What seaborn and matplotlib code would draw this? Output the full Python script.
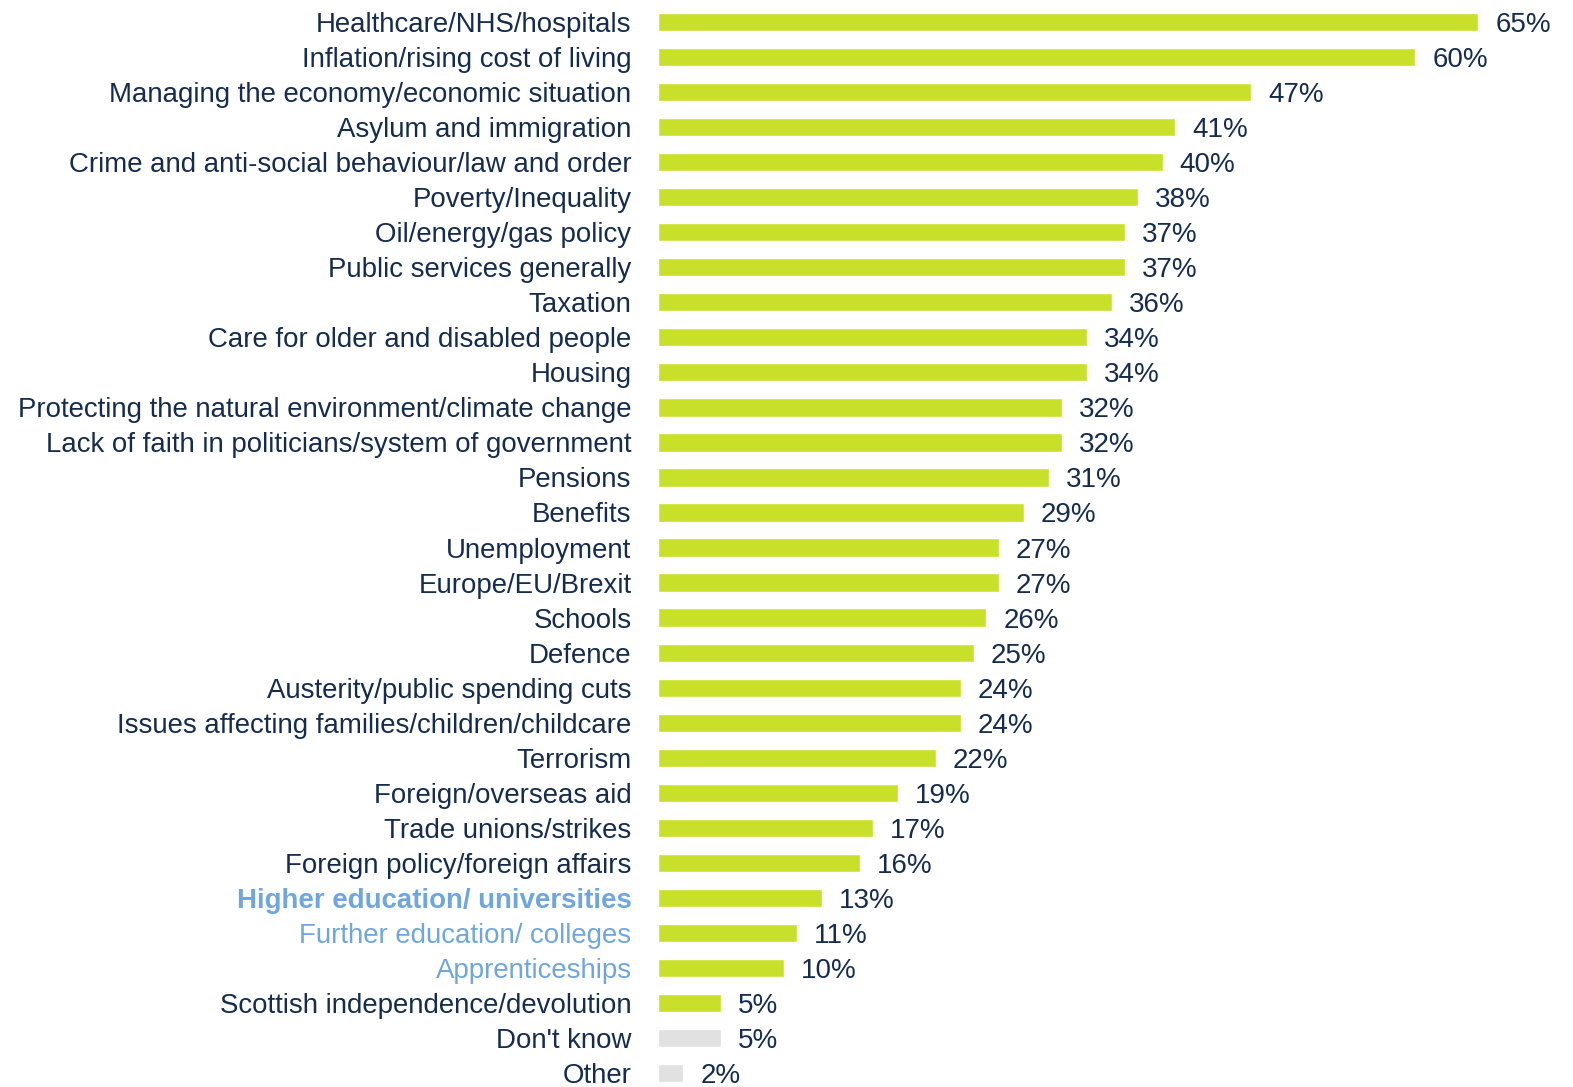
import matplotlib
matplotlib.use("Agg")
import matplotlib.pyplot as plt
import seaborn as sns
import pandas as pd

categories = [
    "Healthcare/NHS/hospitals",
    "Inflation/rising cost of living",
    "Managing the economy/economic situation",
    "Asylum and immigration",
    "Crime and anti-social behaviour/law and order",
    "Poverty/Inequality",
    "Oil/energy/gas policy",
    "Public services generally",
    "Taxation",
    "Care for older and disabled people",
    "Housing",
    "Protecting the natural environment/climate change",
    "Lack of faith in politicians/system of government",
    "Pensions",
    "Benefits",
    "Unemployment",
    "Europe/EU/Brexit",
    "Schools",
    "Defence",
    "Austerity/public spending cuts",
    "Issues affecting families/children/childcare",
    "Terrorism",
    "Foreign/overseas aid",
    "Trade unions/strikes",
    "Foreign policy/foreign affairs",
    "Higher education/ universities",
    "Further education/ colleges",
    "Apprenticeships",
    "Scottish independence/devolution",
    "Don't know",
    "Other",
]
values = [65, 60, 47, 41, 40, 38, 37, 37, 36, 34, 34, 32, 32, 31, 29, 27, 27,
          26, 25, 24, 24, 22, 19, 17, 16, 13, 11, 10, 5, 5, 2]
muted = ["Don't know", "Other"]
education = ["Higher education/ universities", "Further education/ colleges", "Apprenticeships"]

GREEN = "#C9E02B"
GREY = "#E1E1E1"
NAVY = "#152C4F"
BLUE = "#6FA6DE"

df = pd.DataFrame({"issue": categories, "share": values})
palette = {c: (GREY if c in muted else GREEN) for c in categories}

sns.set_theme(style="white")
plt.rcParams["font.family"] = ["Liberation Sans", "DejaVu Sans"]

fig = plt.figure(figsize=(15.73, 10.87), dpi=100)
ax = fig.add_axes([658 / 1573, 0, 1 - 658 / 1573, 1])

sns.barplot(data=df, x="share", y="issue", hue="issue", palette=palette,
            order=categories, hue_order=categories, width=0.52,
            legend=False, ax=ax, saturation=1)

ax.set_xlim(0, 72.5)
ax.set_ylim(30.4, -0.63)
ax.set_xlabel("")
ax.set_ylabel("")
ax.set_xticks([])
sns.despine(ax=ax, left=True, bottom=True, top=True, right=True)

for i, v in enumerate(values):
    ax.text(v + 1.35, i, f"{v}%", va="center_baseline", ha="left",
            fontsize=20, color=NAVY)

ax.tick_params(axis="y", length=0, pad=19)
for lab in ax.get_yticklabels():
    lab.set_fontsize(19.9)
    lab.set_verticalalignment("center_baseline")
    t = lab.get_text()
    if t in education:
        lab.set_color(BLUE)
        if t == education[0]:
            lab.set_fontweight("bold")
    else:
        lab.set_color(NAVY)

fig.savefig("out.png", dpi=100)
